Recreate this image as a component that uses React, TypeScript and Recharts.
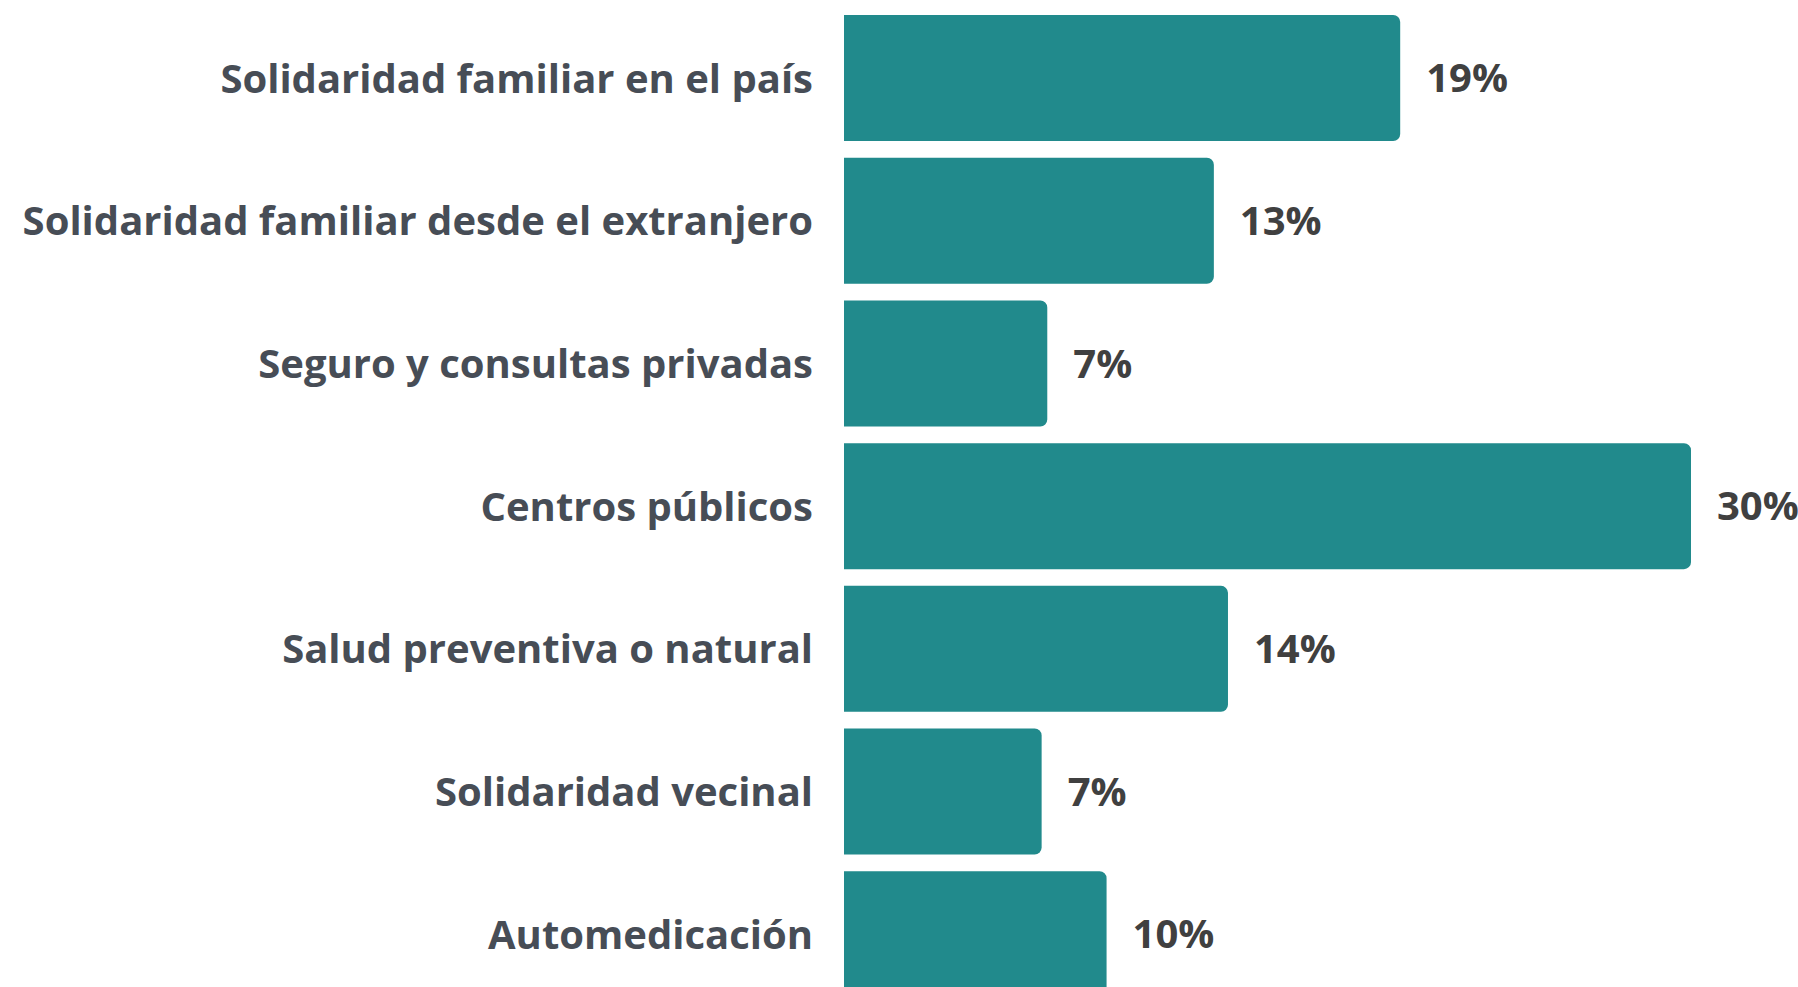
import React from 'react';
import { Bar, BarChart, LabelList, XAxis, YAxis } from 'recharts';

const CATEGORIES = [
  'Solidaridad familiar en el país',
  'Solidaridad familiar desde el extranjero',
  'Seguro y consultas privadas',
  'Centros públicos',
  'Salud preventiva o natural',
  'Solidaridad vecinal',
  'Automedicación',
];

// bar lengths (percent)
const VALUES = [19.7, 13.1, 7.2, 30, 13.6, 7.0, 9.3];

// printed labels
const VALUE_LABELS = ['19%', '13%', '7%', '30%', '14%', '7%', '10%'];

const BAR_COLOR = '#218A8C';
const CATEGORY_COLOR = '#474D56';
const VALUE_COLOR = '#404040';
const FONT = '"Open Sans", "Noto Sans", sans-serif';

const data = CATEGORIES.map((name, i) => ({ name, value: VALUES[i], label: VALUE_LABELS[i] }));

export default function App() {
  return (
    <div
      style={{
        position: 'fixed',
        left: 0,
        top: 0,
        width: 1798,
        height: 987,
        overflow: 'hidden',
        background: '#fff',
      }}
    >
      <BarChart
        width={1798}
        height={1006}
        data={data}
        layout="vertical"
        margin={{ top: 7, right: 107, left: 0, bottom: 0 }}
      >
        <XAxis type="number" domain={[0, 30]} hide />
        <YAxis
          type="category"
          dataKey="name"
          width={844}
          axisLine={false}
          tickLine={false}
          tickSize={0}
          tickMargin={31}
          interval={0}
          tick={{ fill: CATEGORY_COLOR, fontSize: 40, fontWeight: 700, fontFamily: FONT }}
        />
        <Bar dataKey="value" fill={BAR_COLOR} barSize={126} radius={[0, 7, 7, 0]} isAnimationActive={false}>
          <LabelList
            dataKey="label"
            position="right"
            offset={26}
            fill={VALUE_COLOR}
            fontSize={40}
            fontWeight={700}
            fontFamily={FONT}
          />
        </Bar>
      </BarChart>
    </div>
  );
}
